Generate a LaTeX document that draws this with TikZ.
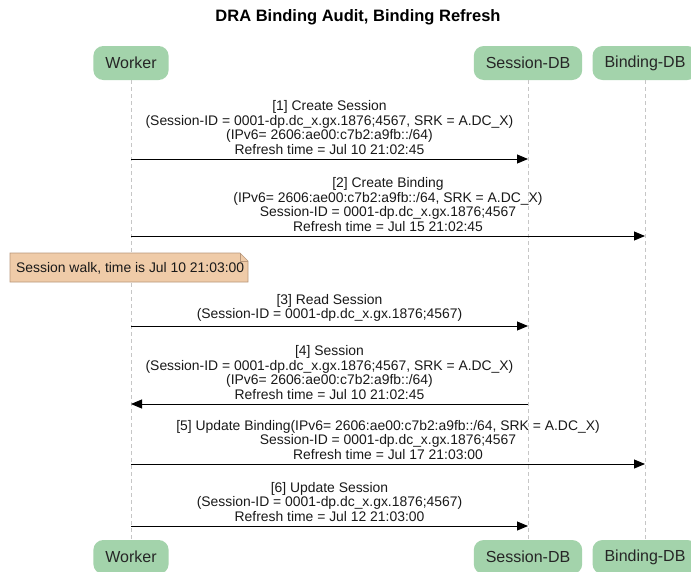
\documentclass[tikz,border=0pt]{standalone}
\usepackage{fontspec}
\setmainfont{Liberation Sans}
\usetikzlibrary{arrows.meta,shapes,positioning,calc}
\definecolor{actorgreen}{HTML}{A3D3AB}
\definecolor{notefill}{HTML}{EFCBA8}
\definecolor{noteline}{HTML}{B8977A}

\begin{document}
\begin{tikzpicture}[x=1pt,y=-1pt,
		actor/.style={rounded corners=10pt, fill=actorgreen, minimum height=34pt, inner xsep=12pt, font=\fontsize{16}{18}\selectfont, text=black!85},
		life/.style={draw=gray!45, dash pattern=on 4pt off 3pt, line width=0.6pt},
		msg/.style={-{Triangle[length=11pt,width=9pt]}, line width=0.9pt},
		lbl/.style={align=center, font=\fontsize{13.9}{14.6}\selectfont, inner sep=1pt, anchor=south, yshift=3pt, text=black!90}]
		\clip (0,0) rectangle (691,571);

		\node[font=\bfseries\fontsize{16.5}{18}\selectfont] (title) at (358,17) {DRA Binding Audit, Binding Refresh};

		% participants
		\node[actor] (wt) at (131,63) {Worker};
		\node[actor] (st) at (528,63) {Session-DB};
		\node[actor] (bt) at (645,63) {Binding-DB};
		\node[actor] (wb) at (131,557) {Worker};
		\node[actor] (sb) at (528,557) {Session-DB};
		\node[actor] (bb) at (645,557) {Binding-DB};

		\draw[life] (wt) -- (wb);
		\draw[life] (st) -- (sb);
		\draw[life] (bt) -- (bb);

		% [1]
		\coordinate (w1) at (wt |- 0,159);
		\coordinate (s1) at (st |- 0,159);
		\draw[msg] (w1) -- (s1) node[lbl, midway] (m1) {[1] Create Session\\(Session-ID = 0001-dp.dc\_x.gx.1876;4567, SRK = A.DC\_X)\\(IPv6= 2606:ae00:c7b2:a9fb::/64)\\Refresh time = Jul 10 21:02:45};

		% [2]
		\coordinate (w2) at (wt |- 0,236);
		\coordinate (b2) at (bt |- 0,236);
		\draw[msg] (w2) -- (b2) node[lbl, midway] (m2) {[2] Create Binding\\(IPv6= 2606:ae00:c7b2:a9fb::/64, SRK = A.DC\_X)\\Session-ID = 0001-dp.dc\_x.gx.1876;4567\\Refresh time = Jul 15 21:02:45};

		% note
		\draw[fill=notefill, draw=noteline, line width=0.6pt] (10,282) -- (10,253) -- (240,253) -- (248,261) -- (248,282) -- cycle;
		\draw[draw=noteline, line width=0.6pt] (240,253) -- (240,261) -- (248,261);
		\node[anchor=west, inner sep=0pt, font=\fontsize{13.9}{14.6}\selectfont, text=black!90] (walk) at (16,268) {Session walk, time is Jul 10 21:03:00};

		% [3]
		\coordinate (w3) at (wt |- 0,326);
		\coordinate (s3) at (st |- 0,326);
		\draw[msg] (w3) -- (s3) node[lbl, midway] (m3) {[3] Read Session\\(Session-ID = 0001-dp.dc\_x.gx.1876;4567)};

		% [4]
		\coordinate (s4) at (st |- 0,404);
		\coordinate (w4) at (wt |- 0,404);
		\draw[msg] (s4) -- (w4) node[lbl, midway] (m4) {[4] Session\\(Session-ID = 0001-dp.dc\_x.gx.1876;4567, SRK = A.DC\_X)\\(IPv6= 2606:ae00:c7b2:a9fb::/64)\\Refresh time = Jul 10 21:02:45};

		% [5]
		\coordinate (w5) at (wt |- 0,464);
		\coordinate (b5) at (bt |- 0,464);
		\draw[msg] (w5) -- (b5) node[lbl, midway] (m5) {[5] Update Binding(IPv6= 2606:ae00:c7b2:a9fb::/64, SRK = A.DC\_X)\\Session-ID = 0001-dp.dc\_x.gx.1876;4567\\Refresh time = Jul 17 21:03:00};

		% [6]
		\coordinate (w6) at (wt |- 0,526);
		\coordinate (s6) at (st |- 0,526);
		\draw[msg] (w6) -- (s6) node[lbl, midway] (m6) {[6] Update Session\\(Session-ID = 0001-dp.dc\_x.gx.1876;4567)\\Refresh time = Jul 12 21:03:00};
	\end{tikzpicture}
\end{document}
